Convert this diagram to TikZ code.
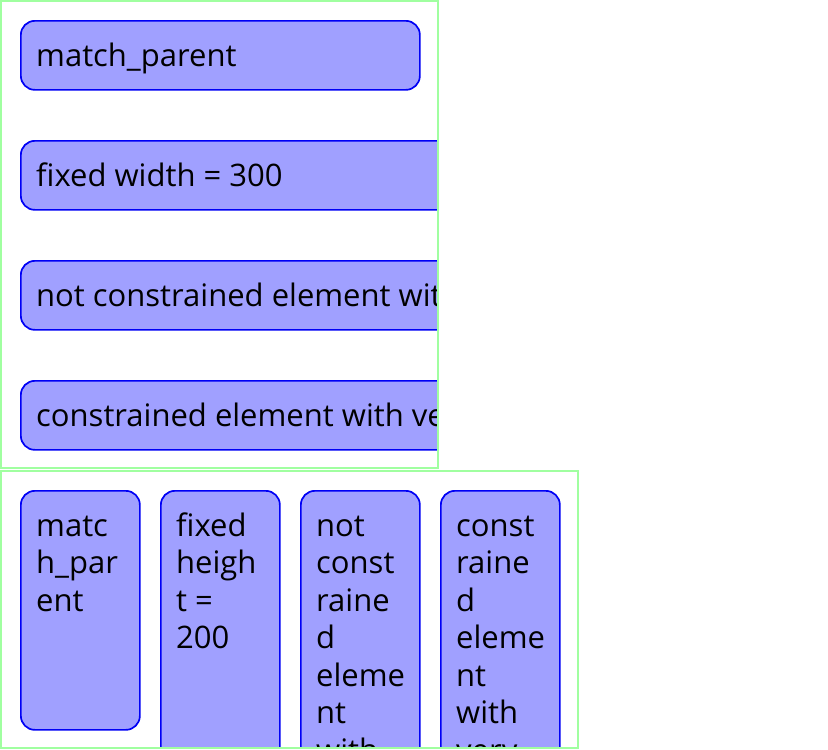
\documentclass[tikz,border=0pt]{standalone}
\usepackage{fontspec}
\setmainfont{Open Sans}
\usepackage{xcolor}
\definecolor{framegreen}{RGB}{160,255,160}
\definecolor{boxfill}{RGB}{160,160,255}
\definecolor{boxline}{RGB}{0,0,245}
\usetikzlibrary{positioning}

\begin{document}
\begin{tikzpicture}[x=1pt, y=-1pt, font=\fontsize{31}{37.5}\selectfont]
		% Define the styles for containers, items and their texts
		\tikzstyle{frame}=[draw=framegreen, line width=2pt]
		\tikzstyle{item}=[rectangle, draw=boxline, fill=boxfill, line width=1.7pt, rounded corners=14pt, inner sep=0pt, anchor=north west]
		\tikzstyle{itemtext}=[inner sep=0pt, anchor=base west, align=left]

		\useasboundingbox (0,0) rectangle (828,750);

		% Define the column container
		\begin{scope}
			\clip (0,0) rectangle (438,469);
			\node (mp) [item, minimum width=399pt, minimum height=69pt] at (20,20) {};
			\node (fw) [item, minimum width=600pt, minimum height=69pt] at (20,140) {};
			\node (nc) [item, minimum width=600pt, minimum height=69pt] at (20,260) {};
			\node (co) [item, minimum width=600pt, minimum height=69pt] at (20,380) {};
			\node (mptext) [itemtext] at (36,66) {match\_parent};
			\node (fwtext) [itemtext] at (36,186) {fixed width = 300};
			\node (nctext) [itemtext] at (36,306) {not constrained element with};
			\node (cotext) [itemtext] at (36,426) {constrained element with very};
		\end{scope}
		\draw[frame] (1,1) rectangle (438,468);

		% Define the row container (texts placed by their last line)
		\begin{scope}
			\clip (0,470) rectangle (579,748);
			\node (rmp) [item, minimum width=119pt, minimum height=239pt] at (20,490) {};
			\node (rfh) [item, minimum width=119pt, minimum height=320pt] at (160,490) {};
			\node (rnc) [item, minimum width=119pt, minimum height=320pt] at (300,490) {};
			\node (rco) [item, minimum width=119pt, minimum height=320pt] at (440,490) {};
			\node (rmptext) [itemtext] at (36,611) {matc\\h\_par\\ent};
			\node (rfhtext) [itemtext] at (176,648.5) {fixed\\heigh\\t =\\200};
			\node (rnctext) [itemtext] at (316,761) {not\\const\\raine\\d\\eleme\\nt\\with};
			\node (rcotext) [itemtext] at (456,761) {const\\raine\\d\\eleme\\nt\\with\\very};
		\end{scope}
		\draw[frame] (1,471) rectangle (578,748);
	\end{tikzpicture}
\end{document}
